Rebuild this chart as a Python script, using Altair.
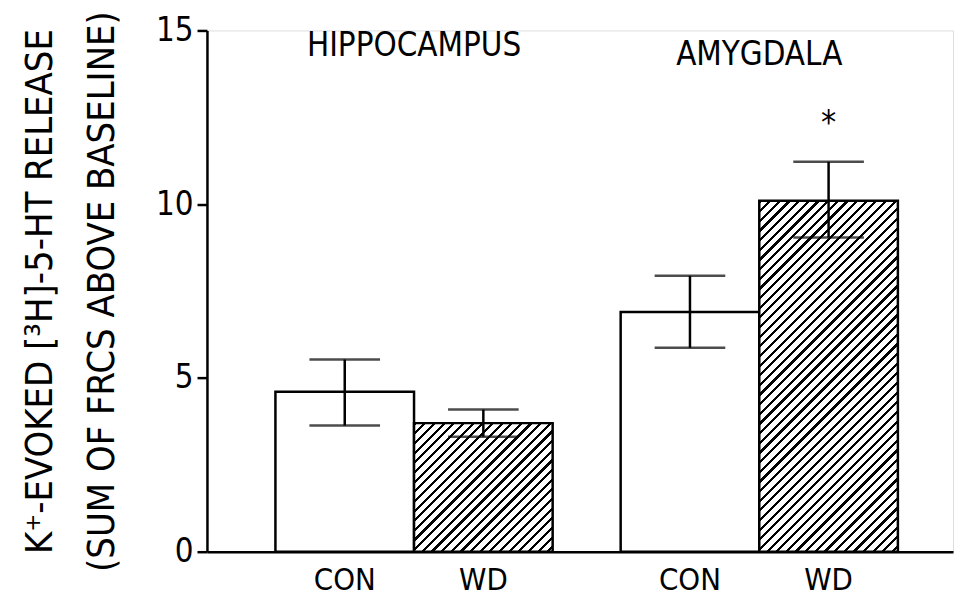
import altair as alt
import pandas as pd

# ---- data ----
regions = ["HIPPOCAMPUS", "AMYGDALA"]
groups = ["CON", "WD"]
bar_region = ["HIPPOCAMPUS", "HIPPOCAMPUS", "AMYGDALA", "AMYGDALA"]
bar_group = ["CON", "WD", "CON", "WD"]
means = [4.6, 3.7, 6.9, 10.1]
err_low = [3.63, 3.31, 5.87, 9.04]
err_high = [5.53, 4.09, 7.94, 11.22]
sig_region = ["AMYGDALA"]
sig_group = ["WD"]
sig_y = [12.45]
region_label_y = [14.55, 14.3]
y_ticks = [0, 5, 10, 15]

FONT = "DejaVu Sans Condensed, Liberation Sans Narrow, Roboto"
W, H = 750, 524
P_IN, P_OUT, ALIGN = 0.197, 0.179, 0.554

df = pd.DataFrame({"region": bar_region, "group": bar_group, "mean": means,
                   "lo": err_low, "hi": err_high})
sig = pd.DataFrame({"region": sig_region, "group": sig_group, "y": sig_y, "t": ["*"]})
lab = pd.DataFrame({"region": regions, "y": region_label_y})

xs = alt.X("region:N", sort=regions,
           scale=alt.Scale(paddingInner=P_IN, paddingOuter=P_OUT, align=ALIGN),
           axis=alt.Axis(title=None, labels=False, ticks=False, domain=True,
                         domainColor="black", domainWidth=2.5))
xo = alt.XOffset("group:N", sort=groups, scale=alt.Scale(paddingInner=0, paddingOuter=0))
ys = alt.Y("mean:Q", scale=alt.Scale(domain=[0, 15], nice=False),
           axis=alt.Axis(values=y_ticks, grid=False, domain=True, domainColor="black",
                         domainWidth=2.5, tickColor="black", tickWidth=2.5, tickSize=10,
                         labelFont=FONT, labelFontSize=33, labelColor="black",
                         labelPadding=4,
                         title=["K\u207a-EVOKED [\u00b3H]-5-HT RELEASE",
                                "(SUM OF FRCS ABOVE BASELINE)"],
                         titleFont=FONT, titleFontSize=38, titleFontWeight="normal",
                         titleColor="black", titleLineHeight=62, titlePadding=34))

# hatch fill as a striped linear gradient (style only)
step = W / (len(regions) - P_IN + 2 * P_OUT)
bar_w = step * (1 - P_IN) / 2
px_per_unit = H / 15.0


def hatch(value, period=9.7, thick=3.2):
    bw, bh = bar_w, value * px_per_unit
    total = bw + bh
    k = total / (bw * bw + bh * bh)
    stops = []
    pos = 0.0
    while pos < total:
        a = pos / total
        b = min((pos + thick) / total, 1.0)
        stops += [{"offset": a, "color": "black"}, {"offset": b, "color": "black"},
                  {"offset": b, "color": "white"}]
        nxt = min((pos + period) / total, 1.0)
        stops += [{"offset": nxt, "color": "white"}]
        pos += period
    return alt.LinearGradient(gradient="linear", stops=stops, x1=0, y1=0,
                              x2=k * bw, y2=k * bh)


base = alt.Chart(df)
con_bars = base.transform_filter(alt.datum.group == "CON").mark_bar(
    fill="white", stroke="black", strokeWidth=2.5).encode(x=xs, xOffset=xo, y=ys)

layers = [con_bars]
for r in regions:
    v = df[(df.region == r) & (df.group == "WD")]["mean"].iloc[0]
    layers.append(
        base.transform_filter((alt.datum.group == "WD") & (alt.datum.region == r))
        .mark_bar(fill=hatch(v), stroke="black", strokeWidth=2.5)
        .encode(x=xs, xOffset=xo, y=ys))

err_rule = base.mark_rule(color="black", strokeWidth=2.5).encode(
    x=xs, xOffset=xo, y="lo:Q", y2="hi:Q")
cap_lo = base.mark_tick(color="black", thickness=2.5, size=71).encode(
    x=xs, xOffset=xo, y="lo:Q")
cap_hi = base.mark_tick(color="black", thickness=2.5, size=71).encode(
    x=xs, xOffset=xo, y="hi:Q")
grp_text = base.mark_text(font=FONT, fontSize=31, color="black", baseline="middle",
                          dy=30).encode(x=xs, xOffset=xo, y=alt.datum(0), text="group:N")
star = alt.Chart(sig).mark_text(font=FONT, fontSize=34, color="black",
                                baseline="middle", dy=5).encode(
    x=alt.X("region:N", sort=regions), xOffset=alt.XOffset("group:N", sort=groups),
    y="y:Q", text="t:N")
reg_text = alt.Chart(lab).mark_text(font=FONT, fontSize=33, color="black",
                                    baseline="middle").encode(
    x=alt.X("region:N", sort=regions), y="y:Q", text="region:N")

layers += [err_rule, cap_lo, cap_hi, grp_text, star, reg_text]

chart = alt.layer(*layers).properties(
    width=W, height=H,
    autosize=alt.AutoSizeParams(type="none"),
    padding={"left": 200, "top": 21, "right": 3, "bottom": 50},
).configure_view(stroke=None).configure(background="white")

chart.save("out.html", embed_options={"renderer": "svg", "actions": False})
